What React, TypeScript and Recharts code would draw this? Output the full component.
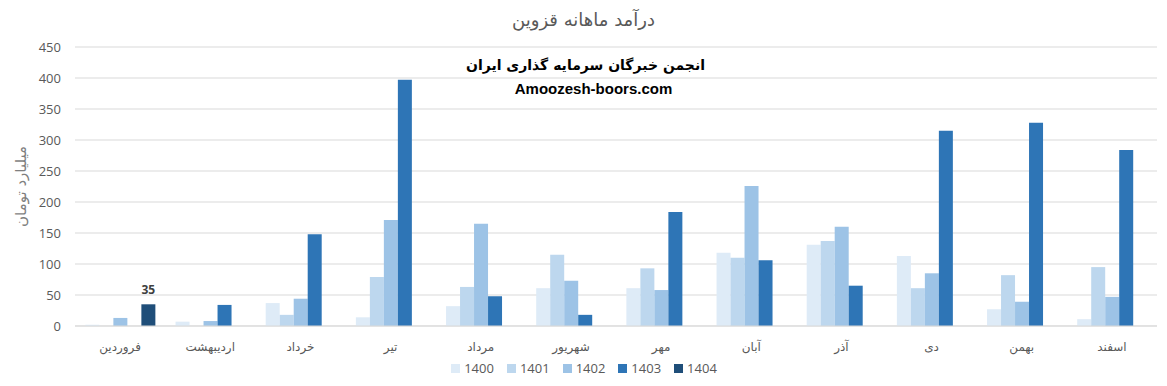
import React from 'react';
import { BarChart, Bar, XAxis, YAxis, CartesianGrid, Legend, LabelList } from 'recharts';

const months = ['فروردین', 'اردیبهشت', 'خرداد', 'تیر', 'مرداد', 'شهریور', 'مهر', 'آبان', 'آذر', 'دی', 'بهمن', 'اسفند'];
const y1400 = [2, 7, 37, 14, 32, 61, 61, 118, 131, 113, 27, 11];
const y1401 = [0, 0, 18, 79, 63, 115, 93, 110, 137, 61, 82, 95];
const y1402 = [13, 8, 44, 171, 165, 73, 58, 226, 160, 85, 39, 47];
const y1403 = [0, 34, 148, 397, 48, 18, 184, 106, 65, 315, 328, 284];
const y1404 = [35, null, null, null, null, null, null, null, null, null, null, null];
const yTicks = [0, 50, 100, 150, 200, 250, 300, 350, 400, 450];

const series = [
  { key: '1400', color: '#DEEBF7' },
  { key: '1401', color: '#BDD7EE' },
  { key: '1402', color: '#9DC3E6' },
  { key: '1403', color: '#2E75B6' },
  { key: '1404', color: '#1F4E79' },
];

const data = months.map((m, i) => ({
  name: m,
  '1400': y1400[i],
  '1401': y1401[i],
  '1402': y1402[i],
  '1403': y1403[i],
  '1404': y1404[i],
}));

const font = '"Open Sans", "DejaVu Sans", sans-serif';
const faFont = '"DejaVu Sans", sans-serif';

const LegendBox = () => (
  <div style={{ display: 'flex', justifyContent: 'center', alignItems: 'center', height: 30, paddingLeft: 24, paddingBottom: 6, boxSizing: 'border-box' }}>
    {series.map(s => (
      <div key={s.key} style={{ display: 'flex', alignItems: 'center', marginRight: 13 }}>
        <span style={{ width: 9, height: 9, background: s.color, display: 'inline-block', marginRight: 4 }} />
        <span style={{ fontSize: 13, color: '#595959', fontFamily: font }}>{s.key}</span>
      </div>
    ))}
  </div>
);

export default function App() {
  return (
    <div style={{ position: 'absolute', left: 0, top: 0, width: 1167, height: 386, background: '#fff', fontFamily: font }}>
      <div style={{ position: 'absolute', left: 0, width: 1167, top: 9, textAlign: 'center', fontSize: 18, color: '#595959', fontFamily: faFont }}>
        درآمد ماهانه قزوین
      </div>
      <BarChart
        width={1167}
        height={386}
        data={data}
        margin={{ top: 47, right: 10, left: 0, bottom: 0 }}
        barCategoryGap="11.5%"
        barGap={0}
      >
        <CartesianGrid vertical={false} stroke="#D9D9D9" />
        <XAxis
          dataKey="name"
          interval={0}
          height={30}
          tickLine={false}
          axisLine={{ stroke: '#D9D9D9' }}
          tickMargin={10}
          tick={{ fontSize: 12, fill: '#595959', fontFamily: faFont }}
        />
        <YAxis
          width={75}
          domain={[0, 450]}
          ticks={yTicks}
          tickLine={false}
          axisLine={false}
          tickMargin={8}
          tick={{ fontSize: 13, fill: '#595959' }}
          label={{
            value: 'میلیارد تومان',
            angle: -90,
            position: 'insideLeft',
            offset: 21,
            style: { fontSize: 15, fill: '#7F7F7F', textAnchor: 'middle', fontFamily: faFont },
          }}
        />
        <Legend verticalAlign="bottom" height={30} content={<LegendBox />} />
        {series.map(s => (
          <Bar key={s.key} dataKey={s.key} fill={s.color} isAnimationActive={false}>
            {s.key === '1404' && (
              <LabelList dataKey="1404" position="top" offset={10} style={{ fontSize: 12, fontWeight: 'bold', fill: '#404040' }} />
            )}
          </Bar>
        ))}
      </BarChart>
      <div style={{ position: 'absolute', left: 0, width: 1167, top: 57, textAlign: 'center', fontSize: 14, fontWeight: 'bold', color: '#000', fontFamily: faFont, paddingLeft: 2 }}>
        انجمن خبرگان سرمایه گذاری ایران
      </div>
      <div style={{ position: 'absolute', left: 0, width: 1167, top: 80, textAlign: 'center', fontSize: 15, fontWeight: 'bold', color: '#000', fontFamily: '"Liberation Sans", Arial, sans-serif', paddingLeft: 10 }}>
        Amoozesh-boors.com
      </div>
    </div>
  );
}
